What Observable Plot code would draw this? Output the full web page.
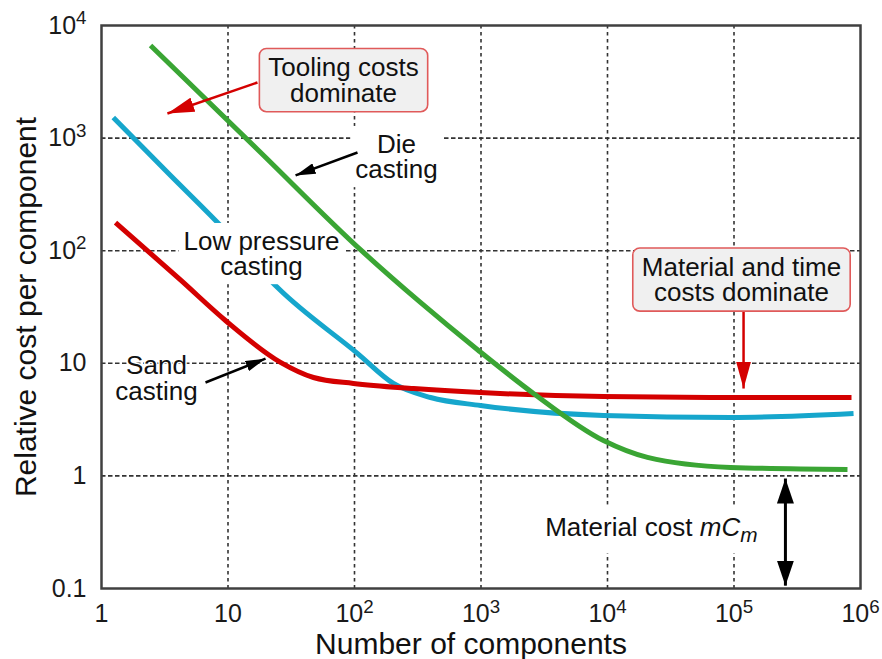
<!DOCTYPE html>
<html><head><meta charset="utf-8">
<script src="https://cdn.jsdelivr.net/npm/d3@7"></script>
<script src="https://cdn.jsdelivr.net/npm/@observablehq/plot@0.6"></script>
<style>
body{margin:0;background:#fff;}
svg{font-family:"Liberation Sans",Arial,sans-serif;}
</style>
</head><body><div id="chart"></div>
<script>
// ---- data ----
const sandX = [1.29, 4.21, 9.55, 26.0, 47.4, 98, 293, 991, 9290, 93800, 849000];
const sandY = [178, 55.0, 24.0, 10.2, 7.48, 6.62, 5.97, 5.50, 5.07, 4.97, 4.97];
const lowX  = [1.24, 3.39, 9.21, 25.1, 106, 203, 399, 991, 9290, 93800, 881000];
const lowY  = [1524, 485, 157, 46.1, 12.2, 6.62, 4.97, 4.22, 3.44, 3.30, 3.58];
const dieX  = [2.44, 16.8, 116, 332, 955, 2600, 9290, 20700, 93800, 789000];
const dieY  = [6640, 809, 98, 34.7, 13.0, 5.4, 2.06, 1.46, 1.19, 1.14];

const xTicks = [1, 10, 100, 1e3, 1e4, 1e5, 1e6];
const yTicks = [0.1, 1, 10, 100, 1e3, 1e4];
const xTickLabels = ["1", "10", "10^2", "10^3", "10^4", "10^5", "10^6"];
const yTickLabels = ["0.1", "1", "10", "10^2", "10^3", "10^4"];

const xLabel = "Number of components";
const yLabel = "Relative cost per component";

const boxedNotes = [
  {x: 81.9, y: 3214, text: "Tooling costs\ndominate"},
  {x: 114600, y: 54.4, text: "Material and time\ncosts dominate"}
];
const plainNotes = [
  {x: 215, y: 673, text: "Die\ncasting"},
  {x: 18.4, y: 92.5, text: "Low pressure\ncasting"}
];
const sandNote = [{x: 2.72, y: 7.26, text: "Sand\ncasting"}];
const materialNote = [{x: 153500, y: 0.348, text: "Material cost mC_m"}];

const redArrows = [
  {x1: 17.1, y1: 3118, x2: 3.32, y2: 1653},
  {x1: 119000, y1: 29.4, x2: 119000, y2: 5.97}
];
const blackArrows = [
  {x1: 105.6, y1: 745, x2: 34.2, y2: 466},
  {x1: 6.64, y1: 6.75, x2: 19.8, y2: 11.0}
];
const doubleArrow = [{x1: 255000, y1: 0.948, x2: 255000, y2: 0.106}];

// ---- build ----
const sand = sandX.map((x, i) => ({x, y: sandY[i]}));
const low = lowX.map((x, i) => ({x, y: lowY[i]}));
const die = dieX.map((x, i) => ({x, y: dieY[i]}));
const xFmt = d => xTickLabels[xTicks.indexOf(d)];
const yFmt = d => yTickLabels[yTicks.indexOf(d)];

const RED = "#d40000", BLUE = "#16a6cc", GREEN = "#3aa534";

const chart = Plot.plot({
  width: 882,
  height: 659,
  marginLeft: 101,
  marginTop: 25,
  marginRight: 22,
  marginBottom: 71,
  style: {fontFamily: "Liberation Sans, Arial, sans-serif", background: "white", color: "#1a1a1a"},
  x: {type: "log", domain: [1, 1e6]},
  y: {type: "log", domain: [0.1, 1e4]},
  marks: [
    Plot.gridX([10, 100, 1e3, 1e4, 1e5], {stroke: "#333", strokeOpacity: 1, strokeWidth: 1.6, strokeDasharray: "3.5,3.5"}),
    Plot.gridY([1, 10, 100, 1e3], {stroke: "#333", strokeOpacity: 1, strokeWidth: 1.6, strokeDasharray: "4.5,2.5"}),
    Plot.axisX(xTicks, {tickFormat: xFmt, tickSize: 0, tickPadding: 16, fontSize: 25, label: null}),
    Plot.axisY(yTicks, {tickFormat: yFmt, tickSize: 0, tickPadding: 15, fontSize: 25, label: null}),
    Plot.line(low, {x: "x", y: "y", stroke: BLUE, strokeWidth: 5, curve: "monotone-x", strokeLinecap: "butt"}),
    Plot.text(plainNotes, {x: "x", y: "y", text: "text", fontSize: 26, lineHeight: 0.97, fill: "#111"}),
    Plot.line(sand, {x: "x", y: "y", stroke: RED, strokeWidth: 5, curve: "monotone-x", strokeLinecap: "butt"}),
    Plot.line(die, {x: "x", y: "y", stroke: GREEN, strokeWidth: 5, curve: "monotone-x", strokeLinecap: "butt"}),
    Plot.link(redArrows, {x1: "x1", y1: "y1", x2: "x2", y2: "y2", stroke: RED, strokeWidth: 2.5}),
    Plot.link(blackArrows, {x1: "x1", y1: "y1", x2: "x2", y2: "y2", stroke: "#000", strokeWidth: 2.5}),
    Plot.link(doubleArrow, {x1: "x1", y1: "y1", x2: "x2", y2: "y2", stroke: "#000", strokeWidth: 3}),
    Plot.text(boxedNotes, {x: "x", y: "y", text: "text", fontSize: 26, lineHeight: 0.97, fill: "#111"}),
    Plot.text(materialNote, {x: "x", y: "y", text: "text", fontSize: 26, textAnchor: "end", fill: "#111"}),
    Plot.text(sandNote, {x: "x", y: "y", text: "text", fontSize: 26, lineHeight: 0.97, fill: "#111", stroke: "white", strokeWidth: 3}),
    Plot.text([xLabel], {text: d => d, frameAnchor: "bottom", lineAnchor: "middle", textAnchor: "middle", dy: 56, dx: -10, fontSize: 30, fill: "#111"}),
    Plot.text([yLabel], {text: d => d, frameAnchor: "left", lineAnchor: "middle", textAnchor: "middle", dx: -75, rotate: -90, fontSize: 30, fill: "#111"}),
    Plot.frame({stroke: "#404040", strokeWidth: 2.5})
  ]
});
document.getElementById("chart").appendChild(chart);

// ---- post-processing: superscripts, italics, boxes, arrowheads ----
const ns = "http://www.w3.org/2000/svg";
const svg = chart.tagName.toLowerCase() === "svg" ? chart : chart.querySelector("svg");

svg.querySelectorAll("text").forEach(t => {
  if (t.children.length === 0 && t.textContent.includes("^")) {
    const [base, exp] = t.textContent.split("^");
    t.textContent = base;
    const s = document.createElementNS(ns, "tspan");
    s.setAttribute("dy", "-0.5em");
    s.setAttribute("style", "font-size:75%");
    s.textContent = exp;
    t.appendChild(s);
  }
});

// text marks in order: plain, boxed, material, sand, xlabel, ylabel
const textGroups = [...svg.querySelectorAll('g[aria-label="text"]')];
const linkGroups = [...svg.querySelectorAll('g[aria-label="link"]')];
const gPlain = textGroups[0], gBoxed = textGroups[1], gMaterial = textGroups[2];

gMaterial.querySelectorAll("text").forEach(t => {
  t.textContent = "Material cost ";
  const a = document.createElementNS(ns, "tspan");
  a.setAttribute("font-style", "italic");
  a.textContent = "mC";
  const b = document.createElementNS(ns, "tspan");
  b.setAttribute("font-style", "italic");
  b.setAttribute("style", "font-size:80%");
  b.setAttribute("dy", "0.3em");
  b.textContent = "m";
  t.appendChild(a); t.appendChild(b);
});

function boxes(g, fill, stroke, sw, padX, padY, rx) {
  g.querySelectorAll("text").forEach(t => {
    const bb = t.getBBox();
    const r = document.createElementNS(ns, "rect");
    r.setAttribute("x", bb.x - padX);
    r.setAttribute("y", bb.y - padY);
    r.setAttribute("width", bb.width + 2 * padX);
    r.setAttribute("height", bb.height + 2 * padY);
    r.setAttribute("rx", rx);
    r.setAttribute("fill", fill);
    r.setAttribute("stroke", stroke);
    r.setAttribute("stroke-width", sw);
    if (t.getAttribute("transform")) r.setAttribute("transform", t.getAttribute("transform"));
    t.parentNode.insertBefore(r, t);
  });
}
boxes(gBoxed, "#f0f0f0", "#e05a5a", 1.6, 9, 4, 7);
boxes(gPlain, "white", "none", 0, 5, 3, 0);
boxes(gMaterial, "white", "none", 0, 4, 7, 0);

const defs = document.createElementNS(ns, "defs");
function marker(id, len, wid, color, orient) {
  const m = document.createElementNS(ns, "marker");
  m.setAttribute("id", id);
  m.setAttribute("markerUnits", "userSpaceOnUse");
  m.setAttribute("markerWidth", len);
  m.setAttribute("markerHeight", wid);
  m.setAttribute("viewBox", `0 0 ${len} ${wid}`);
  m.setAttribute("refX", len);
  m.setAttribute("refY", wid / 2);
  m.setAttribute("orient", orient);
  const p = document.createElementNS(ns, "path");
  p.setAttribute("d", `M0,0L${len},${wid / 2}L0,${wid}Z`);
  p.setAttribute("fill", color);
  p.setAttribute("stroke", "none");
  m.appendChild(p);
  defs.appendChild(m);
}
marker("mk-red", 27, 15, RED, "auto");
marker("mk-black", 20, 11, "#000", "auto");
marker("mk-dbl", 25, 17, "#000", "auto-start-reverse");
svg.insertBefore(defs, svg.firstChild);
linkGroups[0].querySelectorAll("path").forEach(p => p.setAttribute("marker-end", "url(#mk-red)"));
linkGroups[1].querySelectorAll("path").forEach(p => p.setAttribute("marker-end", "url(#mk-black)"));
linkGroups[2].querySelectorAll("path").forEach(p => {
  p.setAttribute("marker-end", "url(#mk-dbl)");
  p.setAttribute("marker-start", "url(#mk-dbl)");
});
</script>
</body></html>
